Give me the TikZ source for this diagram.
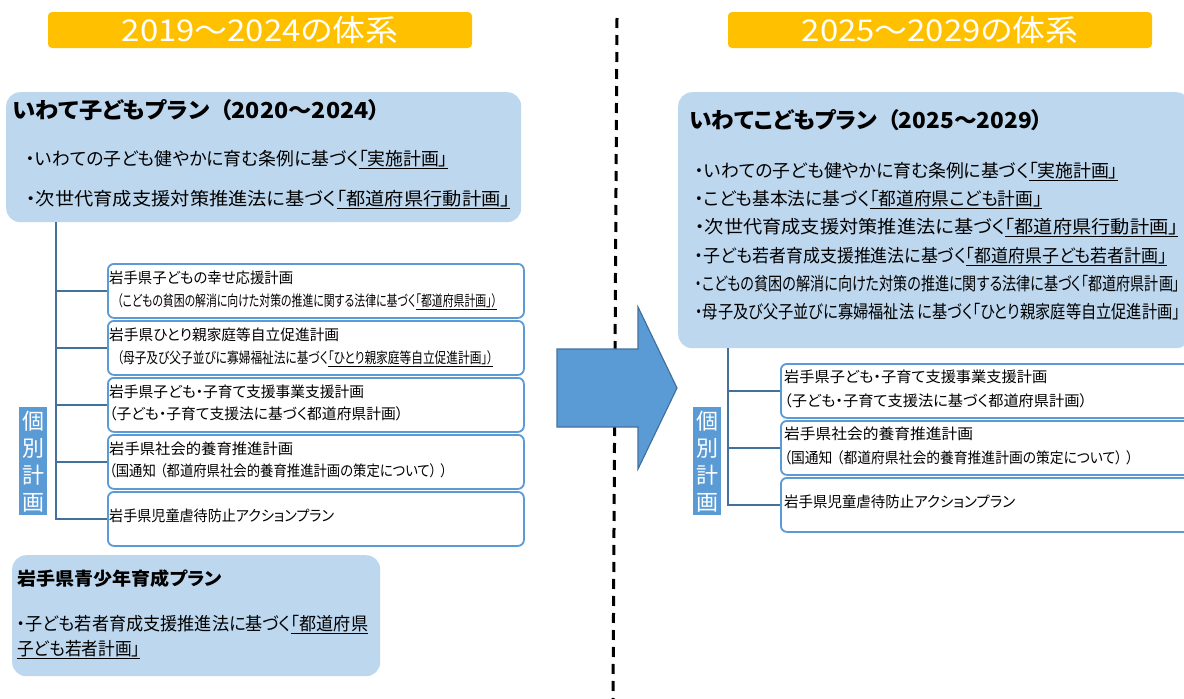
\documentclass[tikz,border=0pt]{standalone}
\usepackage{fontspec}
\setmainfont{Noto Sans CJK JP}[RawFeature=+palt]
\usepackage{graphicx}
\definecolor{bannerorange}{HTML}{FFC000}
\definecolor{planblue}{HTML}{BDD7EE}
\definecolor{linkblue}{HTML}{5B9BD5}
\definecolor{trunkblue}{HTML}{41719C}
\newcommand{\fsz}[1]{\fontsize{#1}{#1}\selectfont}
\newcommand{\fitw}[2]{\resizebox{#1pt}{\height}{#2}}
\newcommand{\uln}[1]{\underline{#1}}
\begin{document}
\begin{tikzpicture}[x=1pt,y=-1pt,
    banner/.style={fill=bannerorange, rounded corners=4pt, minimum width=424, minimum height=36, inner sep=0pt, text=white, font=\fsz{30}},
    planbox/.style={fill=planblue, rounded corners=14pt, inner sep=0pt, anchor=north west},
    subplan/.style={draw=linkblue, line width=1.8pt, fill=white, rounded corners=6pt, minimum height=54, inner sep=0pt, anchor=north west},
    tag/.style={fill=linkblue, text=white, minimum width=28, minimum height=108, inner sep=0pt, align=center, font=\fontsize{22}{27}\selectfont, anchor=north west},
    trunk/.style={draw=trunkblue, line width=1.6pt},
    txt/.style={anchor=west, inner sep=0pt, text height=0.8em, text depth=0.2em},
    body/.style={txt, font=\fsz{15}},
    bullet/.style={txt, font=\fsz{18}},
    head/.style={txt, font=\bfseries\fsz{22}}]
    \clip (0,0) rectangle (1184,699);
    % divider and arrow
    \coordinate (divtop) at (617,18);
    \coordinate (divbot) at (613,699);
    \draw [black, line width=3pt, dash pattern=on 10pt off 7pt] (divtop) -- (divbot);
    \draw [fill=linkblue, draw=trunkblue, line width=1.2pt] (557,349) -- (638,349) -- (638,307) -- (677,388) -- (638,469) -- (638,427) -- (557,427) -- cycle;
    % banners
    \node [banner] (oldhead) at (260,30) {\fitw{276}{2019～2024の体系}};
    \node [banner] (newhead) at (940,30) {\fitw{276}{2025～2029の体系}};
    % 2019-2024 side
    \node [planbox, minimum width=515, minimum height=130] (ltop) at (6,92) {};
    \node [head] (ltitle) at (12,115) {\fitw{368}{いわて子どもプラン\hspace{0.45em}（2020～2024）}};
    \node [bullet] (lb1) at (26,162) {\fitw{422}{・いわての子ども健やかに育む条例に基づく\uln{「実施計画」}}};
    \node [bullet] (lb2) at (26,202) {\fitw{484}{・次世代育成支援対策推進法に基づく\uln{「都道府県行動計画」}}};
    \node [subplan, minimum width=416] (ls1) at (107,263) {};
    \node [subplan, minimum width=416] (ls2) at (107,320) {};
    \node [subplan, minimum width=416] (ls3) at (107,377) {};
    \node [subplan, minimum width=416] (ls4) at (107,434) {};
    \node [subplan, minimum width=416] (ls5) at (107,491) {};
    \node [body] (ls1a) at (109,280) {\fitw{184}{岩手県子どもの幸せ応援計画}};
    \node [body] (ls1b) at (117,303) {\fitw{380}{（こどもの貧困の解消に向けた対策の推進に関する法律に基づく\uln{「都道府県計画」）}}};
    \node [body] (ls2a) at (109,337) {\fitw{230}{岩手県ひとり親家庭等自立促進計画}};
    \node [body] (ls2b) at (117,360) {\fitw{376}{（母子及び父子並びに寡婦福祉法に基づく\uln{「ひとり親家庭等自立促進計画」）}}};
    \node [body] (ls3a) at (109,394) {\fitw{255}{岩手県子ども・子育て支援事業支援計画}};
    \node [body] (ls3b) at (109,416) {\fitw{294}{（子ども・子育て支援法に基づく都道府県計画）}};
    \node [body] (ls4a) at (109,451) {\fitw{184}{岩手県社会的養育推進計画}};
    \node [body] (ls4b) at (109,473) {\fitw{338}{（国通知\hspace{0.3em}（都道府県社会的養育推進計画の策定について）\hspace{0.3em}）}};
    \node [body] (ls5a) at (109,518) {\fitw{225}{岩手県児童虐待防止アクションプラン}};
    \coordinate (lroot) at (56,222);
    \draw [trunk] (lroot) |- (ls5.west);
    \foreach \i in {1,...,4}
        \draw [trunk] (ls\i.west -| lroot) -- (ls\i.west);
    \node [tag] (ltag) at (19,407) {個\\別\\計\\画};
    \node [planbox, minimum width=368, minimum height=121] (lyouth) at (12,555) {};
    \node [txt, font=\bfseries\fsz{18}] (lytitle) at (17,582) {\fitw{205}{岩手県青少年育成プラン}};
    \node [bullet] (lyb1) at (17,627) {\fitw{351}{・子ども若者育成支援推進法に基づく\uln{「都道府県}}};
    \node [bullet] (lyb2) at (17,652) {\fitw{123}{\uln{子ども若者計画」}}};
    % 2025-2029 side
    \node [planbox, minimum width=512, minimum height=256] (rtop) at (678,92) {};
    \node [head] (rtitle) at (689,125) {\fitw{354}{いわてこどもプラン\hspace{0.45em}（2025～2029）}};
    \node [bullet] (rb1) at (695,174) {\fitw{423}{・いわての子ども健やかに育む条例に基づく\uln{「実施計画」}}};
    \node [bullet] (rb2) at (695,202) {\fitw{347}{・こども基本法に基づく\uln{「都道府県こども計画」}}};
    \node [bullet] (rb3) at (695,230) {\fitw{483}{・次世代育成支援対策推進法に基づく\uln{「都道府県行動計画」}}};
    \node [bullet] (rb4) at (695,259) {\fitw{472}{・子ども若者育成支援推進法に基づく\uln{「都道府県子ども若者計画」}}};
    \node [bullet] (rb5) at (695,287) {\fitw{485}{・こどもの貧困の解消に向けた対策の推進に関する法律に基づく「都道府県計画」}};
    \node [bullet] (rb6) at (695,315) {\fitw{485}{・母子及び父子並びに寡婦福祉法 に基づく「ひとり親家庭等自立促進計画」}};
    \node [subplan, minimum width=420] (rs1) at (780,363) {};
    \node [subplan, minimum width=420] (rs2) at (780,420) {};
    \node [subplan, minimum width=420] (rs3) at (780,477) {};
    \node [body] (rs1a) at (784,379) {\fitw{263}{岩手県子ども・子育て支援事業支援計画}};
    \node [body] (rs1b) at (784,403) {\fitw{303}{（子ども・子育て支援法に基づく都道府県計画）}};
    \node [body] (rs2a) at (784,436) {\fitw{189}{岩手県社会的養育推進計画}};
    \node [body] (rs2b) at (784,460) {\fitw{349}{（国通知\hspace{0.3em}（都道府県社会的養育推進計画の策定について）\hspace{0.3em}）}};
    \node [body] (rs3a) at (784,504) {\fitw{231}{岩手県児童虐待防止アクションプラン}};
    \coordinate (rroot) at (728,348);
    \draw [trunk] (rroot) |- (rs3.west);
    \foreach \i in {1,2}
        \draw [trunk] (rs\i.west -| rroot) -- (rs\i.west);
    \node [tag] (rtag) at (693,407) {個\\別\\計\\画};
\end{tikzpicture}
\end{document}
